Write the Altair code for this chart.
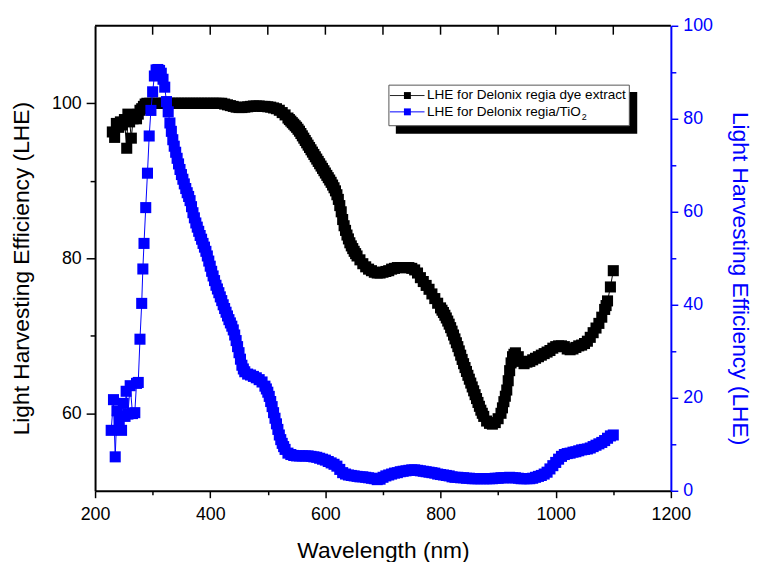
import altair as alt
import pandas as pd

FONT = "Liberation Sans"
BLUE = "#0000FF"
W, H = 582, 470

# ---------------- data ----------------
# Black series: LHE for Delonix regia dye extract (left axis)
black_wl_noisy = [230, 234, 237, 241, 244, 247, 251, 255, 257, 260, 263, 266, 269, 272, 275,
                  278, 281, 284, 287, 290, 295]
black_val_noisy = [96.3, 95.6, 97.4, 96.9, 97.6, 97.2, 97.9, 94.2, 98.6, 97.6, 95.5, 98.0, 98.3,
                   98.0, 98.6, 99.1, 99.3, 99.6, 99.9, 100.0, 100.0]
black_wl_grid = list(range(300, 1101, 5))
black_val_grid = [
    100.0, 100.0, 100.0, 100.0, 100.0, 100.0, 100.0, 100.0, 100.0, 100.0,   # 300-345
    100.0, 100.0, 100.0, 100.0, 100.0, 100.0, 100.0, 100.0, 100.0, 100.0,   # 350-395
    100.0, 100.0, 100.0, 100.0, 100.0, 99.9, 99.8, 99.7, 99.6, 99.5,        # 400-445
    99.45, 99.45, 99.5, 99.55, 99.6, 99.65, 99.65, 99.65, 99.6, 99.6,       # 450-495
    99.55, 99.5, 99.4, 99.3, 99.1, 98.8, 98.5, 98.1, 97.7, 97.3,            # 500-545
    96.9, 96.4, 95.8, 95.2, 94.6, 94.0, 93.4, 92.8, 92.2, 91.6,             # 550-595
    91.0, 90.4, 89.8, 89.1, 88.2, 86.8, 85.0, 83.6, 82.5, 81.6,             # 600-645
    80.9, 80.3, 79.8, 79.3, 78.9, 78.6, 78.4, 78.2, 78.1, 78.1,             # 650-695
    78.2, 78.3, 78.4, 78.6, 78.7, 78.8, 78.8, 78.8, 78.8, 78.8,             # 700-745
    78.7, 78.5, 78.1, 77.5, 77.0, 76.5, 76.0, 75.4, 74.8, 74.2,             # 750-795
    73.6, 73.0, 72.3, 71.5, 70.6, 69.6, 68.6, 67.5, 66.4, 65.4,             # 800-845
    64.4, 63.4, 62.4, 61.4, 60.4, 59.6, 59.0, 58.7, 58.6, 58.8,             # 850-895
    59.3, 60.0, 61.5, 63.0, 65.5, 67.3, 67.8, 67.3, 66.7, 66.4,             # 900-945
    66.6, 66.7, 66.9, 67.1, 67.3, 67.5, 67.7, 67.9, 68.1, 68.4,             # 950-995
    68.6, 68.7, 68.7, 68.6, 68.3, 68.2, 68.3, 68.5, 68.7, 68.8,             # 1000-1045
    69.0, 69.3, 69.8, 70.4, 71.0, 71.6, 72.4, 73.4, 74.5, 76.3,             # 1050-1095
    78.4,                                                                   # 1100
]
# extra readings where the measured curve is steep (the original is densely sampled)
black_wl_extra = [537.5, 542.5, 547.5, 552.5, 557.5, 562.5, 567.5, 572.5, 577.5, 582.5,
                  587.5, 592.5, 597.5, 602.5, 607.5, 612.5, 617.5, 622.5, 627.5, 632.5,
                  637.5, 642.5, 647.5, 652.5, 802.5, 807.5, 812.5, 817.5, 822.5, 827.5,
                  832.5, 837.5, 842.5, 847.5, 852.5, 857.5, 862.5, 867.5, 872.5, 907.5,
                  912.5, 917.5, 922.5, 927.5, 1087.5]
black_val_extra = [97.9, 97.5, 97.1, 96.65, 96.1, 95.5, 94.9, 94.3, 93.7, 93.1,
                   92.5, 91.9, 91.3, 90.7, 90.1, 89.45, 88.7, 87.6, 86.0, 84.2,
                   83.0, 82.0, 81.25, 80.6, 73.3, 72.65, 71.9, 71.05, 70.1, 69.1,
                   68.05, 66.95, 65.9, 64.9, 63.9, 62.9, 61.9, 60.9, 60.0, 60.7,
                   62.2, 64.2, 66.5, 67.6, 73.9]

# Blue series: LHE for Delonix regia/TiO2 (right axis)
blue_wl_early = [228, 232, 235, 238, 242, 246, 249, 252, 254, 257, 261, 265, 269, 272, 275, 278,
                 281, 283, 285, 288, 291, 294, 297, 300, 303, 306, 309, 312, 315, 318, 321, 324,
                 327, 330, 335, 340, 345]
blue_val_early = [13.0, 19.6, 7.3, 17.2, 15.0, 13.0, 18.8, 16.0, 21.4, 16.5, 22.6, 16.6, 16.8,
                  23.1, 23.3, 32.6, 40.3, 47.7, 53.2, 60.9, 68.3, 76.3, 81.8, 85.8, 89.2, 90.5,
                  90.6, 90.4, 89.8, 88.5, 86.8, 83.7, 81.5, 79.1, 75.5, 72.8, 70.3]
blue_wl_grid = list(range(350, 1101, 5))
blue_val_grid = [
    68.0, 66.0, 64.1, 62.4, 59.8, 57.6, 55.8, 54.1, 52.4, 50.5,   # 350-395
    48.3, 46.2, 44.2, 42.6, 40.9, 39.2, 37.6, 36.1, 34.6, 32.3,   # 400-445
    29.7, 27.0, 25.6, 25.1, 24.9, 24.6, 24.3, 23.9, 23.4, 22.5,   # 450-495
    21.2, 19.2, 16.8, 14.4, 12.0, 10.2, 8.9, 8.1, 7.8, 7.6,       # 500-545
    7.5, 7.5, 7.5, 7.5, 7.5, 7.4, 7.3, 7.2, 7.0, 6.8,             # 550-595
    6.6, 6.3, 6.0, 5.7, 5.3, 4.6, 3.9, 3.6, 3.4, 3.3,             # 600-645
    3.2, 3.1, 3.0, 3.0, 2.9, 2.8, 2.7, 2.6, 2.4, 2.5,             # 650-695
    2.9, 3.2, 3.4, 3.6, 3.8, 3.9, 4.1, 4.2, 4.3, 4.4,             # 700-745
    4.5, 4.5, 4.4, 4.3, 4.2, 4.1, 4.0, 3.9, 3.8, 3.6,             # 750-795
    3.5, 3.4, 3.3, 3.2, 3.0, 2.9, 2.9, 2.8, 2.8, 2.7,             # 800-845
    2.7, 2.6, 2.6, 2.6, 2.6, 2.6, 2.6, 2.6, 2.6, 2.7,             # 850-895
    2.7, 2.8, 2.8, 2.8, 2.9, 2.8, 2.8, 2.7, 2.6, 2.6,             # 900-945
    2.6, 2.6, 2.7, 2.9, 3.1, 3.3, 3.6, 4.0, 4.7, 5.4,             # 950-995
    6.1, 6.8, 7.4, 7.8, 8.0, 8.1, 8.3, 8.4, 8.6, 8.8,             # 1000-1045
    8.9, 9.0, 9.2, 9.5, 9.8, 10.1, 10.4, 10.8, 11.3, 11.8,        # 1050-1095
    12.0,                                                         # 1100
]
blue_wl_extra = [332.5, 337.5, 342.5, 347.5, 352.5, 357.5, 362.5, 367.5, 372.5, 377.5,
                 382.5, 387.5, 392.5, 397.5, 402.5, 407.5, 412.5, 417.5, 422.5, 427.5,
                 432.5, 437.5, 442.5, 447.5, 452.5, 457.5, 497.5, 502.5, 507.5, 512.5,
                 517.5, 522.5, 527.5]
blue_val_extra = [77.3, 74.1, 71.5, 69.1, 67.0, 65.0, 63.3, 61.1, 58.7, 56.7,
                  54.9, 53.2, 51.5, 49.4, 47.2, 45.2, 43.4, 41.7, 40.0, 38.4,
                  36.8, 35.4, 33.5, 31.0, 28.3, 26.2, 21.9, 20.3, 18.1, 15.6,
                  13.2, 11.0, 9.5]

x_ticks = [200, 300, 400, 500, 600, 700, 800, 900, 1000, 1100, 1200]
top_ticks = [300, 400, 500, 600, 700, 800, 900, 1000, 1100]
left_ticks = [60, 70, 80, 90, 100]
right_ticks = [0, 10, 20, 30, 40, 50, 60, 70, 80, 90, 100]

legend_labels = ["LHE for Delonix regia dye extract", "LHE for Delonix regia/TiO"]

black_df = pd.DataFrame({
    "wl": black_wl_noisy + black_wl_grid + black_wl_extra,
    "lhe": black_val_noisy + black_val_grid + black_val_extra,
}).sort_values("wl")
blue_df = pd.DataFrame({
    "wl": blue_wl_early + blue_wl_grid + blue_wl_extra,
    "lhe": blue_val_early + blue_val_grid + blue_val_extra,
}).sort_values("wl")
top_df = pd.DataFrame({"wl": top_ticks})
one = pd.DataFrame({"k": [0]})

SQ = 125  # marker area (px^2)

# ---------------- scales / axes ----------------
x_scale = alt.Scale(domain=[200, 1200], nice=False, zero=False)
x_axis = alt.Axis(
    title="Wavelength (nm)", values=x_ticks, format="d",
    labelExpr="datum.value % 200 == 0 ? datum.label : ''",
    tickSize={"condition": {"test": "datum.value % 200 == 0", "value": 7}, "value": 4},
    labelPadding=8, labelFontSize=18, titleFontSize=23, titleY=49,
    domainColor="black", tickColor="black", labelColor="black", titleColor="black",
    domainWidth=2, tickWidth=1.5, grid=False, labelFlush=False,
)


def xenc():
    return alt.X("wl:Q", scale=x_scale, axis=x_axis)


left_axis = alt.Axis(
    orient="left", title="Light Harvesting Efficiency (LHE)", values=left_ticks, format="d",
    labelExpr="datum.value % 20 == 0 ? datum.label : ''",
    tickSize={"condition": {"test": "datum.value % 20 == 0", "value": 9}, "value": 5},
    labelPadding=5, labelFontSize=18, titleFontSize=23, titleX=-62, titleY=245,
    domainColor="black", tickColor="black", labelColor="black", titleColor="black",
    domainWidth=2, tickWidth=1.5, grid=False,
)
right_axis = alt.Axis(
    orient="right", title="Light Harvesting Efficiency (LHE)", values=right_ticks, format="d",
    labelExpr="datum.value % 20 == 0 ? datum.label : ''",
    tickSize={"condition": {"test": "datum.value % 20 == 0", "value": 7}, "value": 5},
    labelPadding=5, labelFontSize=18, titleFontSize=23, titleX=57, titleY=255,
    domainColor=BLUE, tickColor=BLUE, labelColor=BLUE, titleColor=BLUE,
    domainWidth=2, tickWidth=1.5, grid=False,
)
yl = alt.Y("lhe:Q", scale=alt.Scale(domain=[50, 110], nice=False, zero=False), axis=left_axis)
yr = alt.Y("lhe:Q", scale=alt.Scale(domain=[0, 100], nice=False, zero=False), axis=right_axis)

black_line = alt.Chart(black_df).mark_line(color="black", strokeWidth=1).encode(x=xenc(), y=yl)
black_pts = alt.Chart(black_df).mark_square(color="black", size=SQ, opacity=1).encode(x=xenc(), y=yl)
blue_line = alt.Chart(blue_df).mark_line(color=BLUE, strokeWidth=1).encode(x=xenc(), y=yr)
blue_pts = alt.Chart(blue_df).mark_square(color=BLUE, size=SQ, opacity=1).encode(x=xenc(), y=yr)

left = alt.layer(black_line, black_pts)
right = alt.layer(blue_line, blue_pts)

top_tick_marks = alt.Chart(top_df).mark_rule(color="black", strokeWidth=1.5).encode(
    x=xenc(), y=alt.value(0), y2=alt.value(9))
top_frame = alt.Chart(one).mark_rule(color="black", strokeWidth=2).encode(
    x=alt.value(0), x2=alt.value(W), y=alt.value(0))

# ---------------- legend (drawn box with shadow) ----------------
shadow = alt.Chart(one).mark_rect(color="black").encode(
    x=alt.value(304), x2=alt.value(548), y=alt.value(67), y2=alt.value(109))
box = alt.Chart(one).mark_rect(fill="white", stroke="#555555", strokeWidth=1).encode(
    x=alt.value(297), x2=alt.value(540), y=alt.value(60), y2=alt.value(101))
leg1_line = alt.Chart(one).mark_rule(color="#222222", strokeWidth=1).encode(
    x=alt.value(298), x2=alt.value(333), y=alt.value(70.5))
leg2_line = alt.Chart(one).mark_rule(color=BLUE, strokeWidth=1).encode(
    x=alt.value(298), x2=alt.value(333), y=alt.value(87))
leg1_sq = alt.Chart(one).mark_square(color="black", size=49, opacity=1).encode(
    x=alt.value(315.7), y=alt.value(70.5))
leg2_sq = alt.Chart(one).mark_square(color=BLUE, size=49, opacity=1).encode(
    x=alt.value(315.7), y=alt.value(87))
leg1_txt = alt.Chart(one).mark_text(align="left", baseline="middle", font=FONT, fontSize=13.7,
                                    color="black").encode(
    x=alt.value(335.5), y=alt.value(70.5), text=alt.value(legend_labels[0]))
leg2_txt = alt.Chart(one).mark_text(align="left", baseline="middle", font=FONT, fontSize=13.7,
                                    color="black").encode(
    x=alt.value(335.5), y=alt.value(87), text=alt.value(legend_labels[1]))
leg2_sub = alt.Chart(one).mark_text(align="left", baseline="middle", font=FONT, fontSize=9,
                                    color="black").encode(
    x=alt.value(491.8), y=alt.value(92.5), text=alt.value("2"))

chart = alt.layer(
    left, right, top_tick_marks, top_frame,
    shadow, box, leg1_line, leg2_line, leg1_sq, leg2_sq, leg1_txt, leg2_txt, leg2_sub,
).resolve_scale(y="independent").properties(
    width=W, height=H,
    padding={"left": 88, "top": 15, "right": 82, "bottom": 69},
    autosize=alt.AutoSizeParams(type="none"),
    background="white",
).configure_view(stroke=None).configure_axis(
    labelFont=FONT, titleFont=FONT, titleFontWeight="normal", grid=False,
)

chart.save("out.html", embed_options={"renderer": "svg", "actions": False})
